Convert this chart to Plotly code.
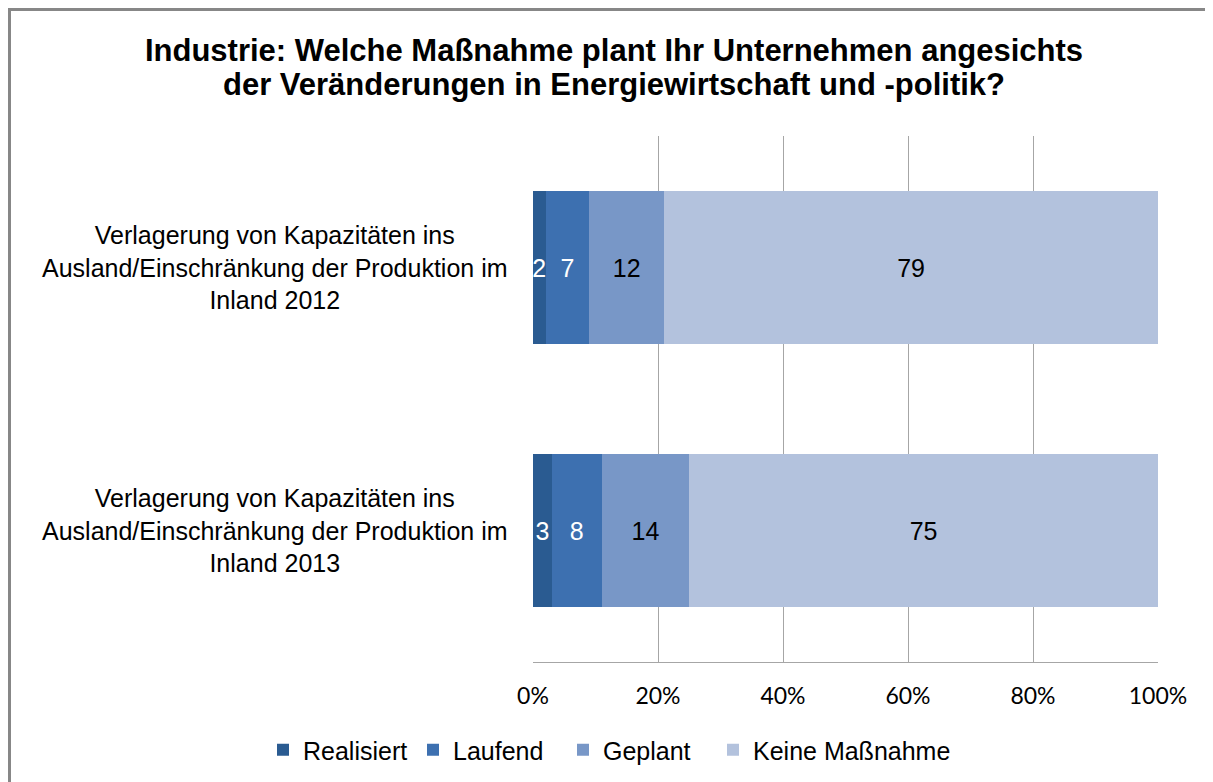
import plotly.graph_objects as go

categories = [
    "Verlagerung von Kapazitäten ins<br>Ausland/Einschränkung der Produktion im<br>Inland 2012",
    "Verlagerung von Kapazitäten ins<br>Ausland/Einschränkung der Produktion im<br>Inland 2013",
]
series_names = ["Realisiert", "Laufend", "Geplant", "Keine Maßnahme"]
realisiert = [2, 3]
laufend = [7, 8]
geplant = [12, 14]
keine = [79, 75]
colors = ["#2a5b91", "#3d70b0", "#7897c7", "#b3c2dd"]
label_colors = ["white", "white", "black", "black"]
x_ticks = [0, 20, 40, 60, 80, 100]
x_tick_labels = ["0%", "20%", "40%", "60%", "80%", "100%"]
title_line1 = "Industrie: Welche Maßnahme plant Ihr Unternehmen angesichts"
title_line2 = "der Veränderungen in Energiewirtschaft und -politik?"

W, H = 1205, 774
L, R, T, B = 525, 55, 128, 120
PW, PH = W - L - R, H - T - B

def px_x(p):
    return (p - L) / PW

def px_y(p):
    return (H - B - p) / PH

values = [realisiert, laufend, geplant, keine]
fig = go.Figure()
for name, vals, col, lc in zip(series_names, values, colors, label_colors):
    fig.add_trace(go.Bar(
        y=categories, x=vals, name=name, orientation="h",
        marker=dict(color=col, line=dict(width=0)),
        text=[str(v) for v in vals], textposition="inside",
        insidetextanchor="middle", textangle=0,
        insidetextfont=dict(color=lc, size=25, family="Liberation Sans, Arial"),
        constraintext="none",
    ))

# invisible spacer entry so the last legend label is not clipped
fig.add_trace(go.Bar(
    y=[categories[0]], x=[0], name=" ", orientation="h",
    marker=dict(color="rgba(0,0,0,0)", line=dict(width=0)),
    hoverinfo="skip", showlegend=True,
))

for cat in categories:
    fig.add_annotation(
        x=px_x(267), xref="paper", y=cat, yref="y", text=cat, showarrow=False,
        align="center", xanchor="center", yanchor="middle",
        font=dict(family="Liberation Sans, Arial", size=25, color="black"),
    )

fig.add_annotation(
    x=px_x(606), xref="paper", y=px_y(77), yref="paper",
    text="<b>" + title_line2 + "</b>", showarrow=False,
    xanchor="center", yanchor="middle",
    font=dict(family="Liberation Sans, Arial", size=31, color="black"),
)

# outer chart border
fig.add_shape(type="rect", xref="paper", yref="paper",
              x0=px_x(1.5), x1=px_x(1260), y0=px_y(900), y1=px_y(1.5),
              line=dict(color="#878787", width=3), layer="above")

fig.update_layout(
    width=W, height=H,
    barmode="stack", bargap=0.42,
    paper_bgcolor="white", plot_bgcolor="white",
    margin=dict(l=L, r=R, t=T, b=B, autoexpand=False),
    title=dict(
        text="<b>" + title_line1 + "</b>",
        x=606 / W, xref="container", xanchor="center",
        y=1 - 42 / H, yref="container", yanchor="middle",
        font=dict(family="Liberation Sans, Arial", size=31, color="black"),
    ),
    xaxis=dict(
        range=[0, 100], tickvals=x_ticks, ticktext=x_tick_labels,
        showgrid=True, gridcolor="#a6a6a6", gridwidth=1,
        showline=True, linecolor="#a6a6a6", linewidth=1,
        ticks="outside", ticklen=0, ticklabelstandoff=13,
        tickfont=dict(family="Lato, Carlito, sans-serif", size=23, color="black"),
        zeroline=False, fixedrange=True,
    ),
    yaxis=dict(
        autorange="reversed", showticklabels=False, showgrid=False,
        showline=False, zeroline=False, ticks="",
    ),
    legend=dict(
        orientation="h", xref="paper", yref="paper",
        x=px_x(255), xanchor="left", y=px_y(742), yanchor="middle",
        font=dict(family="Liberation Sans, Arial", size=25, color="black"),
        traceorder="normal", itemwidth=30, entrywidth=105,
        bgcolor="rgba(0,0,0,0)",
    ),
    showlegend=True,
)

fig.write_html("out.html")
